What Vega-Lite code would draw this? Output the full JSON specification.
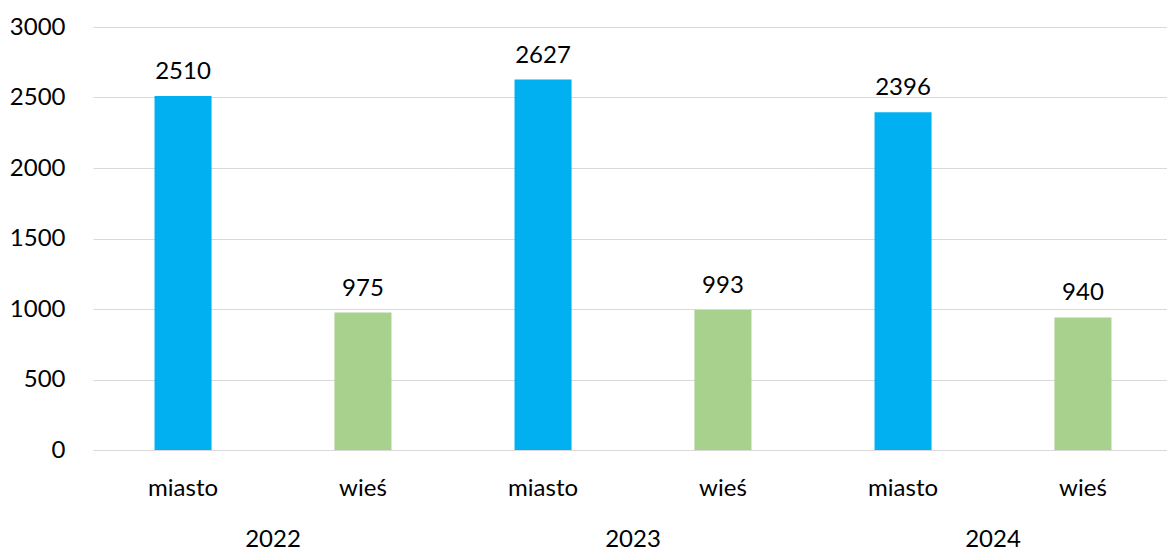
{
  "$schema": "https://vega.github.io/schema/vega-lite/v6.json",
  "padding": {"top": 15, "left": 9, "right": 0, "bottom": 0},
  "background": "white",
  "data": {"values": [
    {"rok": "2022", "typ": "miasto", "wartosc": 2510},
    {"rok": "2022", "typ": "wieś", "wartosc": 975},
    {"rok": "2023", "typ": "miasto", "wartosc": 2627},
    {"rok": "2023", "typ": "wieś", "wartosc": 993},
    {"rok": "2024", "typ": "miasto", "wartosc": 2396},
    {"rok": "2024", "typ": "wieś", "wartosc": 940}
  ]},
  "facet": {
    "column": {
      "field": "rok", "type": "ordinal",
      "header": {"labelOrient": "bottom", "title": null, "labelFontSize": 24, "labelFont": "Lato", "labelColor": "#000000", "labelPadding": 28}
    }
  },
  "spacing": 0,
  "spec": {
    "width": 360,
    "height": 423,
    "encoding": {
      "x": {"field": "typ", "type": "nominal", "title": null,
        "scale": {"paddingInner": 0.683, "paddingOuter": 0.342},
        "axis": {"labelAngle": 0, "labelFontSize": 24, "labelFont": "Lato", "labelColor": "#000000", "ticks": false, "domainColor": "#D9D9D9", "labelPadding": 26}},
      "y": {"field": "wartosc", "type": "quantitative", "title": null,
        "scale": {"domain": [0, 3000]},
        "axis": {"values": [0, 500, 1000, 1500, 2000, 2500, 3000], "format": "d", "labelFontSize": 24, "labelFont": "Lato", "labelColor": "#000000", "ticks": false, "domain": false, "gridColor": "#D9D9D9", "labelPadding": 28}}
    },
    "layer": [
      {"mark": {"type": "bar"},
       "encoding": {"color": {"field": "typ", "type": "nominal", "legend": null,
         "scale": {"domain": ["miasto", "wieś"], "range": ["#00B0F0", "#A9D18E"]}}}},
      {"mark": {"type": "text", "baseline": "bottom", "dy": -12, "fontSize": 24, "font": "Lato", "color": "#000000"},
       "encoding": {"text": {"field": "wartosc", "type": "quantitative"}}}
    ]
  },
  "config": {"view": {"stroke": null}}
}
